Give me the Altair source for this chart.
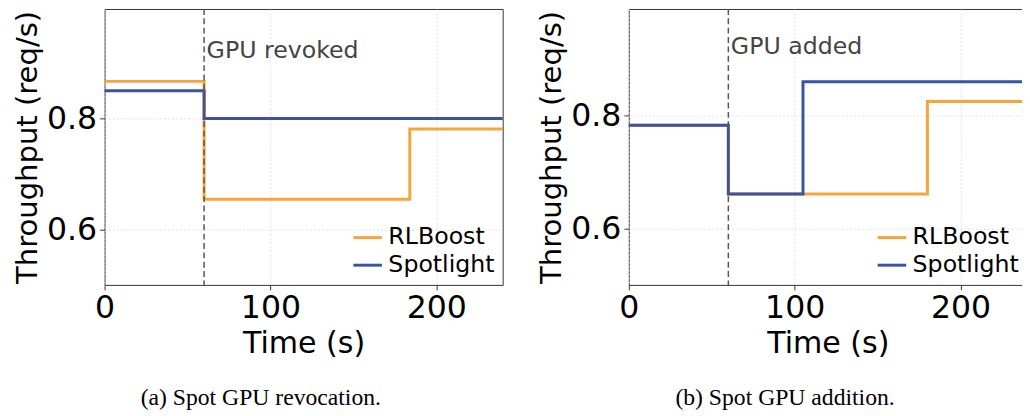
import altair as alt
import pandas as pd

# ---- data ----
series_names = ["RLBoost", "Spotlight"]
series_colors = ["#F5A53B", "#3A53A4"]

a_rlboost_time = [0, 60, 184, 240]
a_rlboost_tput = [0.867, 0.6545, 0.781, 0.781]
a_spot_time = [0, 60, 240]
a_spot_tput = [0.850, 0.800, 0.800]

b_rlboost_time = [0, 60, 180, 240]
b_rlboost_tput = [0.783, 0.661, 0.825, 0.825]
b_spot_time = [0, 60, 105, 240]
b_spot_tput = [0.783, 0.661, 0.860, 0.860]

event_time = [60]
event_labels = ["GPU revoked", "GPU added"]
captions = ["(a) Spot GPU revocation.", "(b) Spot GPU addition."]
x_ticks = [0, 100, 200]
y_ticks = [0.6, 0.8]
x_domain = [0, 240]
y_domains = [[0.5, 0.9975], [0.5, 0.989]]
label_y = 0.909

FONT = "DejaVu Sans"
TICK_FS = 32
XTITLE_FS = 30.5
YTITLE_FS = 29.5


def panel(t_r, v_r, t_s, v_s, ydom, label, caption):
    df = pd.DataFrame({
        "time": t_r + t_s,
        "tput": v_r + v_s,
        "series": [series_names[0]] * len(t_r) + [series_names[1]] * len(t_s),
    })
    ev = pd.DataFrame({"time": event_time, "tput": [label_y], "label": [label]})

    x = alt.X(
        "time:Q",
        scale=alt.Scale(domain=x_domain, nice=False, zero=False),
        axis=alt.Axis(
            values=x_ticks, title="Time (s)", labelFontSize=TICK_FS, titleFontSize=XTITLE_FS,
            titleFontWeight="normal", labelColor="black", titleColor="black",
            tickSize=5, tickColor="#333", tickWidth=1, labelPadding=3, titlePadding=6,
            domain=False, grid=True, gridColor="#d9d9d9", gridDash=[2, 2], gridWidth=0.8,
            labelFlush=False, labelFont=FONT, titleFont=FONT,
        ),
    )
    y = alt.Y(
        "tput:Q",
        scale=alt.Scale(domain=ydom, nice=False, zero=False),
        axis=alt.Axis(
            values=y_ticks, format=".1f", title="Throughput (req/s)", labelFontSize=TICK_FS,
            titleFontSize=YTITLE_FS, titleFontWeight="normal", labelColor="black", titleColor="black",
            tickSize=5, tickColor="#333", tickWidth=1, labelPadding=3, titlePadding=4,
            domain=False, grid=True, gridColor="#d9d9d9", gridDash=[2, 2], gridWidth=0.8,
            labelFont=FONT, titleFont=FONT,
        ),
    )

    lines = alt.Chart(df).mark_line(interpolate="step-after", strokeWidth=3).encode(
        x=x,
        y=y,
        color=alt.Color(
            "series:N",
            scale=alt.Scale(domain=series_names, range=series_colors),
            legend=alt.Legend(
                orient="none", legendX=251, legendY=216, title=None,
                symbolType="stroke", symbolSize=841, symbolStrokeWidth=3,
                labelFontSize=24, labelColor="black", labelFont=FONT,
                labelOffset=5, rowPadding=-2, padding=0,
            ),
        ),
    )
    rule = alt.Chart(ev).mark_rule(color="#555", strokeDash=[6, 3.5], strokeWidth=1.5).encode(x=x)
    text = alt.Chart(ev).mark_text(
        align="left", baseline="alphabetic", dx=2.5, fontSize=24, color="#444", font=FONT
    ).encode(x=x, y=y, text="label:N")

    return alt.layer(lines, rule, text).properties(
        width=404,
        height=280,
        title=alt.TitleParams(
            text=caption, orient="bottom", anchor="middle", frame="bounds",
            font="Liberation Serif", fontSize=24, fontWeight="normal", color="black", offset=27,
        ),
    )


pa = panel(a_rlboost_time, a_rlboost_tput, a_spot_time, a_spot_tput, y_domains[0], event_labels[0], captions[0])
pb = panel(b_rlboost_time, b_rlboost_tput, b_spot_time, b_spot_tput, y_domains[1], event_labels[1], captions[1])

chart = (
    alt.hconcat(pa, pb, spacing=27)
    .resolve_legend(color="independent")
    .properties(padding={"left": 4, "top": -4, "right": -12, "bottom": 0}, background="white")
    .configure(font=FONT)
    .configure_view(stroke="#333", strokeWidth=1)
)

chart.save("out.html", embed_options={"renderer": "svg", "actions": False})
